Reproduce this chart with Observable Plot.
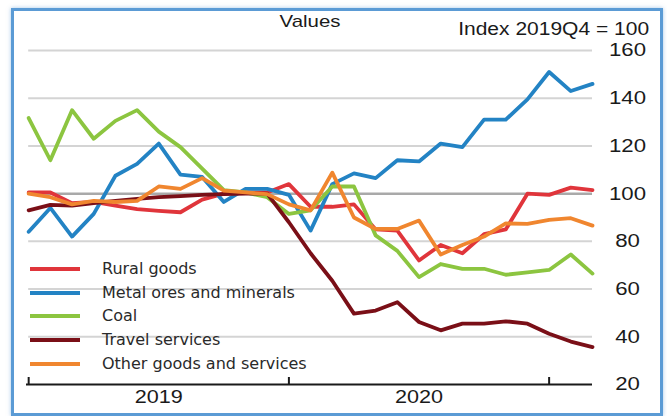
<!DOCTYPE html>
<html>
<head>
<meta charset="utf-8">
<script src="https://cdn.jsdelivr.net/npm/d3@7"></script>
<script src="https://cdn.jsdelivr.net/npm/@observablehq/plot@0.6"></script>
<style>
  html, body { margin: 0; padding: 0; background: #fff; }
  #frame { position: relative; width: 667px; height: 416px; overflow: hidden;
           font-family: "Liberation Sans", Arial, sans-serif; color: #1a1a1a; }
  #border { position: absolute; left: 11px; top: 8px; width: 652px; height: 408px;
            box-sizing: border-box; border: 3px solid #5b9bd5;
            box-shadow: 0 0 4px rgba(91,155,213,0.55); pointer-events: none; }
  #chart { position: absolute; left: 0; top: 0; }
  .hdr { position: absolute; line-height: 20px; white-space: nowrap; }
  #title { left: 310px; top: 12px; font-size: 17px; transform: translateX(-50%) scaleX(1.2); }
  #unit { right: 18px; top: 19px; font-size: 17.5px; transform: scaleX(1.2); transform-origin: right center; }
  #legend { position: absolute; left: 30px; top: 257px; font-family: "DejaVu Sans", Verdana, sans-serif;
            font-size: 16px; color: #2a2a2a; }
  #legend .row { height: 23.7px; line-height: 23.7px; white-space: nowrap; display: flex; align-items: center; }
  #legend .sw { display: inline-block; width: 50px; height: 4px; margin-right: 22px; }
</style>
</head>
<body>
<div id="frame">
  <div id="chart"></div>
  <div class="hdr" id="title">Values</div>
  <div class="hdr" id="unit">Index 2019Q4 = 100</div>
  <div id="legend"></div>
  <div id="border"></div>
</div>
<script>
// Monthly index values, January 2019 to March 2021 (2019Q4 = 100)
const monthIndex = d3.range(27);

const seriesNames = ["Rural goods", "Metal ores and minerals", "Coal", "Travel services", "Other goods and services"];
const seriesColors = ["#e0353b", "#2383c4", "#8cc540", "#7a0f17", "#f0862f"];

const ruralGoods = [100.5, 100.5, 96, 96.5, 95, 93.5, 92.8, 92.2, 97.5, 100, 100.5, 100.5, 104,
                    94.5, 94.5, 95.5, 85, 84.5, 72, 78.5, 75, 83, 85, 100, 99.5, 102.5, 101.5];
const metalOres = [84, 94, 82, 91.5, 107.5, 112.5, 121, 108, 107, 96.5, 102, 102, 99.5,
                   84.5, 104, 108.5, 106.5, 114, 113.5, 121, 119.5, 131, 131, 139.5, 151, 143, 146];
const coal = [131.7, 114, 135, 123, 130.5, 135, 126, 119.5, 110.5, 101.5, 100.5, 98.5, 91.5,
              93, 103, 103, 82.5, 76, 65, 70.5, 68.5, 68.5, 66, 67, 68, 74.5, 66.5];
const travelServices = [93, 95.3, 95, 96, 97, 97.8, 98.5, 99, 99.5, 99.8, 100, 100, 88,
                        75, 63.5, 49.7, 51, 54.5, 46.2, 42.7, 45.5, 45.5, 46.5, 45.5, 41.3, 38, 35.7];
const otherGoods = [100, 98.5, 95.5, 97, 96.5, 97, 103, 102, 106.5, 101.3, 100.5, 99.8, 95.5,
                    93, 108.8, 90, 85.2, 85.2, 88.7, 74.5, 78.5, 82, 87.5, 87.3, 89, 89.7, 86.6];

const yTicks = [20, 40, 60, 80, 100, 120, 140, 160];
const yearStarts = [0, 12, 24];       // January of 2019, 2020, 2021
const yearMidpoints = [6, 18];        // where the year names sit
const firstYear = 2019;

const allSeries = [ruralGoods, metalOres, coal, travelServices, otherGoods];
const rows = [];
allSeries.forEach((vals, i) => vals.forEach((v, k) => rows.push({series: seriesNames[i], month: monthIndex[k], value: v})));

const chart = Plot.plot({
  width: 667,
  height: 416,
  marginTop: 50,
  marginBottom: 32,
  marginLeft: 26,
  marginRight: 75,
  style: {fontFamily: "'Liberation Sans', Arial, sans-serif", fontSize: "18px", color: "#1a1a1a", background: "transparent"},
  x: {domain: [-0.1, 26], axis: null, label: null},
  y: {domain: [20, 160], axis: null, label: null},
  color: {domain: seriesNames, range: seriesColors},
  marks: [
    Plot.ruleY(yTicks.filter(t => t > 20 && t !== 100), {x1: 0, x2: 26, stroke: "#d4d4d4", strokeWidth: 2}),
    Plot.ruleY([100], {x1: 0, x2: 26, stroke: "#a9a9a9", strokeWidth: 2.5}),
    Plot.line(rows, {x: "month", y: "value", z: "series", stroke: "series", strokeWidth: 3.8}),
    Plot.ruleY([20], {stroke: "#1a1a1a", strokeWidth: 2.2}),
    Plot.axisX(yearStarts, {tickSize: -7, tickFormat: () => "", label: null, stroke: "#1a1a1a", strokeWidth: 2}),
    Plot.axisX(yearMidpoints, {tickSize: 0, tickPadding: 6, fontSize: 18, label: null,
                               tickFormat: k => String(firstYear + Math.floor(k / 12))}),
    Plot.axisY(yTicks, {anchor: "right", tickSize: 0, tickPadding: 35, textAnchor: "middle", fontSize: 18.5, label: null})
  ]
});

// Widen the tick labels horizontally around their anchor points
chart.querySelectorAll("text").forEach(t => {
  const tr = t.getAttribute("transform") || "";
  t.setAttribute("transform", `${tr} scale(1.2,1)`.trim());
});
document.getElementById("chart").append(chart);

const legend = document.getElementById("legend");
seriesNames.forEach((name, i) => {
  const row = document.createElement("div");
  row.className = "row";
  const sw = document.createElement("span");
  sw.className = "sw";
  sw.style.background = seriesColors[i];
  const label = document.createElement("span");
  label.textContent = name;
  row.append(sw, label);
  legend.append(row);
});
</script>
</body>
</html>
